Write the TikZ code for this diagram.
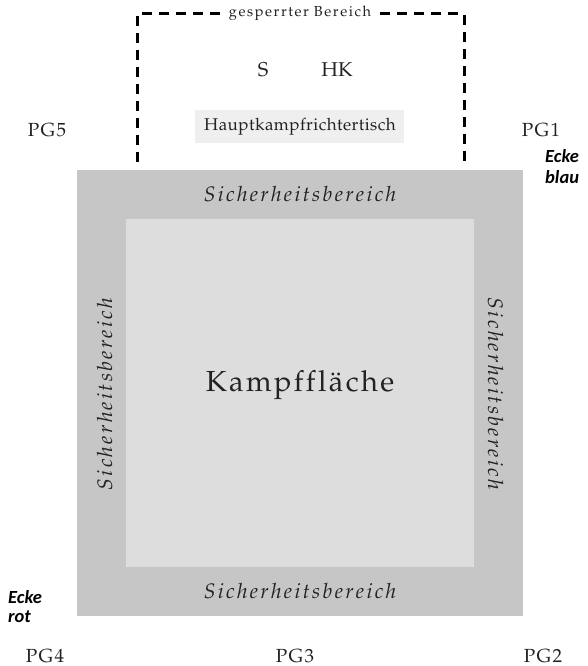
\documentclass[tikz,border=0pt]{standalone}
\usepackage[T1]{fontenc}
\usepackage{fontspec}
\newfontfamily\carl{Carlito}
\newcommand\pal{\fontencoding{T1}\fontfamily{ppl}\selectfont}
\newcommand\fs[1]{\fontsize{#1}{#1}\selectfont}
\ExplSyntaxOn
\NewDocumentCommand\ls{m m}{\tl_map_inline:nn {#2} {##1\kern #1}\kern -#1}
\ExplSyntaxOff
\definecolor{outergray}{HTML}{C6C6C6}
\definecolor{innergray}{HTML}{DDDDDD}
\definecolor{tablegray}{HTML}{EFEFEF}
\definecolor{txt}{HTML}{222222}
\tikzset{
  lbl/.style={inner sep=0pt, anchor=base, text=txt, font=\pal\fs{19}},
  sich/.style={inner sep=0pt, anchor=base, text=txt, font=\pal\itshape\fs{21}},
  ecke/.style={inner sep=0pt, anchor=base west, text=black, font=\carl\bfseries\itshape\fs{18.5}},
  zone/.style={dashed, dash pattern=on 10pt off 7pt, line width=3pt, line cap=butt}
}
\newcommand\sichtext{\ls{2.4pt}{Sicherheitsbereich}}
\begin{document}
\begin{tikzpicture}[x=1pt,y=-1pt]
\useasboundingbox (0,0) rectangle (587,666);
% areas
\fill[outergray] (77,170) rectangle (523,616);
\fill[innergray] (126,219) rectangle (474,567);
% restricted zone
\coordinate (zbl) at (137,162);
\coordinate (ztl) at (137,14);
\coordinate (ztr) at (464,14);
\coordinate (zbr) at (464,162);
\draw[zone] (zbl) -- (ztl) -- (ztr) -- (zbr);
\node[lbl, font=\pal\fs{14.5}, fill=white, inner xsep=2pt, inner ysep=1pt] (gb) at (300,17) {\ls{1.6pt}{gesperrter}\hspace{5pt}\ls{1.6pt}{Bereich}};
% table
\node[fill=tablegray, minimum width=209pt, minimum height=33pt, inner sep=0pt] (tisch) at (299.5,126.5) {};
\node[lbl, font=\pal\fs{17}] (tischtxt) at (300,130) {\ls{0.45pt}{Hauptkampfrichtertisch}};
\node[lbl, font=\pal\fs{20}] (s) at (263,77) {S};
\node[lbl, font=\pal\fs{20}] (hk) at (337,77) {HK};
% safety zone labels
\node[sich] (sn) at (300,201) {\sichtext};
\node[sich] (ss) at (300,598) {\sichtext};
\node[sich, rotate=90] (sw) at (112,394) {\sichtext};
\node[sich, rotate=-90] (se) at (488,394) {\sichtext};
\node[lbl, font=\pal\fs{29}] (kf) at (300,391) {\ls{2.4pt}{Kampffläche}};
% PG labels
\node[lbl] (pg5) at (47,136) {\ls{1.5pt}{PG5}};
\node[lbl] (pg1) at (541,136) {\ls{1.5pt}{PG1}};
\node[lbl] (pg4) at (45,662) {\ls{1.5pt}{PG4}};
\node[lbl] (pg3) at (295,662) {\ls{1.5pt}{PG3}};
\node[lbl] (pg2) at (543,662) {\ls{1.5pt}{PG2}};
% corners
\node[ecke] (eb1) at (545,162) {Ecke};
\node[ecke] (eb2) at (545,183) {blau};
\node[ecke] (er1) at (8,603) {Ecke};
\node[ecke] (er2) at (8,622) {rot};
\end{tikzpicture}
\end{document}
